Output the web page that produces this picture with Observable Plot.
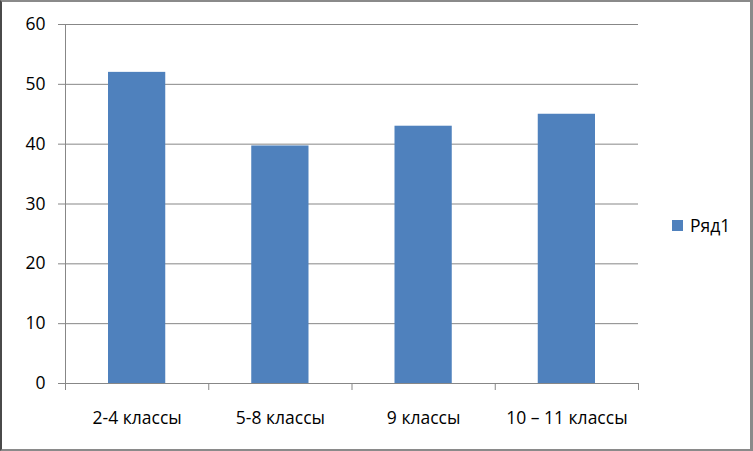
<!DOCTYPE html>
<html>
<head>
<meta charset="utf-8">
<script src="https://cdn.jsdelivr.net/npm/d3@7"></script>
<script src="https://cdn.jsdelivr.net/npm/@observablehq/plot@0.6"></script>
<style>
  html, body { margin: 0; padding: 0; background: #fff; }
  #wrap { position: relative; width: 753px; height: 451px; overflow: hidden; font-family: "Open Sans", sans-serif; }
  #border { position: absolute; left: 0; top: 0; width: 753px; height: 451px; box-sizing: border-box;
    border-left: 2px solid #4a4a4a; border-top: 2px solid #8a8a8a; border-right: 3px solid #8a8a8a; border-bottom: 2px solid #8a8a8a; pointer-events: none; }
  #legend { position: absolute; left: 672px; top: 213px; display: flex; align-items: center; font-size: 17.5px; color: #000; }
  #legend .sw { width: 11px; height: 11px; margin-right: 7px; }
</style>
</head>
<body>
<div id="wrap">
  <div id="chart"></div>
  <div id="legend"></div>
  <div id="border"></div>
</div>
<script>
const categories = ["2-4 классы", "5-8 классы", "9 классы", "10 – 11 классы"];
const values = [52, 39.7, 43, 45];
const seriesName = "Ряд1";
const yTicks = [0, 10, 20, 30, 40, 50, 60];
const barColor = "#4F81BD";
const gridColor = "#878787";

const data = categories.map((c, i) => ({ c, i, v: values[i] }));
const bounds = d3.range(categories.length + 1);
const centers = categories.map((c, i) => i + 0.5);

const chart = Plot.plot({
  width: 753,
  height: 451,
  marginLeft: 65,
  marginRight: 115,
  marginTop: 24,
  marginBottom: 68,
  style: { fontFamily: "Open Sans, sans-serif", fontSize: "17.5px", color: "#000", background: "transparent" },
  x: { domain: [0, categories.length], axis: null },
  y: { domain: [0, 60], axis: null },
  marks: [
    Plot.axisY({ ticks: yTicks, tickSize: 7, tickPadding: 13, stroke: gridColor, label: null, fontSize: 17.5 }),
    Plot.gridY({ ticks: yTicks, stroke: gridColor, strokeOpacity: 1 }),
    Plot.rectY(data, { x1: "i", x2: d => d.i + 1, y: "v", fill: barColor, insetLeft: 43, insetRight: 43 }),
    Plot.ruleX([0], { stroke: gridColor }),
    Plot.ruleY([0], { stroke: gridColor }),
    Plot.axisX({ ticks: bounds, tickSize: 7, tickFormat: () => "", stroke: gridColor, label: null }),
    Plot.axisX({ ticks: centers, tickSize: 0, tickPadding: 28, tickFormat: d => categories[Math.floor(d)], label: null, fontSize: 17.5 })
  ]
});
document.getElementById("chart").appendChild(chart);

const legend = document.getElementById("legend");
const sw = document.createElement("div");
sw.className = "sw";
sw.style.background = barColor;
legend.appendChild(sw);
const lt = document.createElement("span");
lt.textContent = seriesName;
legend.appendChild(lt);
</script>
</body>
</html>
